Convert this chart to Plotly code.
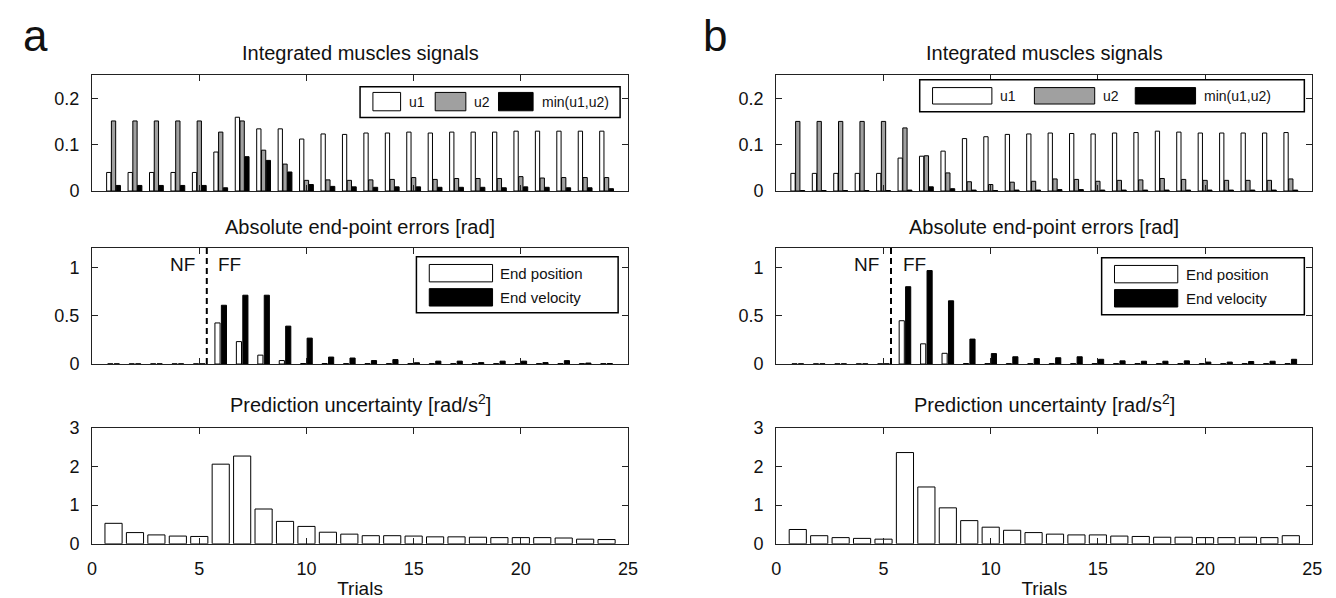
import plotly.graph_objects as go

W, H = 1336, 598

trials = list(range(1, 25))

# Panel a
a_u1 = [0.040, 0.040, 0.040, 0.040, 0.040, 0.084, 0.159, 0.134, 0.134, 0.112, 0.123, 0.122,
        0.125, 0.125, 0.127, 0.125, 0.127, 0.127, 0.127, 0.129, 0.129, 0.129, 0.129, 0.129]
a_u2 = [0.151, 0.151, 0.151, 0.151, 0.151, 0.127, 0.151, 0.088, 0.058, 0.023, 0.024, 0.023,
        0.024, 0.025, 0.029, 0.025, 0.027, 0.027, 0.027, 0.031, 0.028, 0.029, 0.029, 0.029]
a_min = [0.012, 0.012, 0.012, 0.012, 0.012, 0.007, 0.074, 0.066, 0.041, 0.014, 0.010, 0.009,
         0.008, 0.009, 0.009, 0.008, 0.008, 0.008, 0.007, 0.009, 0.008, 0.007, 0.007, 0.005]
a_pos = [0.002, 0.002, 0.002, 0.002, 0.002, 0.425, 0.232, 0.092, 0.036, 0.005, 0.005, 0.004,
         0.004, 0.004, 0.004, 0.004, 0.004, 0.004, 0.004, 0.004, 0.004, 0.004, 0.004, 0.004]
a_vel = [0.002, 0.002, 0.002, 0.002, 0.002, 0.608, 0.712, 0.712, 0.392, 0.268, 0.072, 0.062,
         0.036, 0.046, 0.013, 0.030, 0.030, 0.015, 0.030, 0.030, 0.015, 0.035, 0.010, 0.005]
a_unc = [0.53, 0.29, 0.23, 0.20, 0.19, 2.06, 2.27, 0.90, 0.58, 0.45, 0.30, 0.25,
         0.21, 0.21, 0.20, 0.18, 0.18, 0.17, 0.16, 0.16, 0.16, 0.15, 0.12, 0.11]

# Panel b
b_u1 = [0.038, 0.038, 0.038, 0.038, 0.038, 0.071, 0.075, 0.086, 0.113, 0.117, 0.122, 0.123,
        0.125, 0.124, 0.123, 0.125, 0.126, 0.129, 0.127, 0.125, 0.125, 0.125, 0.125, 0.126]
b_u2 = [0.150, 0.150, 0.150, 0.150, 0.150, 0.136, 0.076, 0.039, 0.020, 0.014, 0.019, 0.021,
        0.026, 0.025, 0.021, 0.023, 0.024, 0.027, 0.025, 0.023, 0.023, 0.023, 0.023, 0.026]
b_min = [0.001, 0.001, 0.001, 0.001, 0.001, 0.002, 0.009, 0.005, 0.002, 0.001, 0.002, 0.002,
         0.003, 0.003, 0.002, 0.002, 0.002, 0.002, 0.002, 0.002, 0.002, 0.002, 0.002, 0.002]
b_pos = [0.002, 0.002, 0.002, 0.002, 0.002, 0.448, 0.209, 0.111, 0.005, 0.004, 0.004, 0.004,
         0.004, 0.004, 0.004, 0.004, 0.004, 0.004, 0.004, 0.004, 0.004, 0.004, 0.004, 0.004]
b_vel = [0.002, 0.002, 0.002, 0.002, 0.002, 0.800, 0.967, 0.654, 0.258, 0.108, 0.075, 0.056,
         0.065, 0.075, 0.049, 0.033, 0.029, 0.029, 0.033, 0.020, 0.020, 0.026, 0.029, 0.049]
b_unc = [0.37, 0.21, 0.16, 0.14, 0.12, 2.36, 1.47, 0.93, 0.60, 0.43, 0.35, 0.29,
         0.25, 0.23, 0.23, 0.20, 0.19, 0.17, 0.17, 0.16, 0.16, 0.17, 0.16, 0.21]

nf_ff_boundary = [5.35, 5.35]
x_ticks = [0, 5, 10, 15, 20, 25]
top_ticks = [0, 0.1, 0.2]
top_tick_text = ["0", "0.1", "0.2"]
mid_ticks = [0, 0.5, 1]
mid_tick_text = ["0", "0.5", "1"]
bot_ticks = [0, 1, 2, 3]

muscle_labels = ["u1", "u2", "min(u1,u2)"]
error_labels = ["End position", "End velocity"]
titles = ["Integrated muscles signals", "Absolute end-point errors [rad]",
          "Prediction uncertainty [rad/s<sup>2</sup>]"]
panel_letters = ["a", "b"]

FONT = "Liberation Sans"
GRAY = "#a0a0a0"
LINE = "#222222"
TXT = "#111111"
muscle_colors = ["white", GRAY, "black"]
error_colors = ["white", "black"]


def px_x(a, b):
    return [a / W, b / W]


def px_y(top, bottom):
    return [1 - bottom / H, 1 - top / H]


col_px = [(80, 622), (772, 1314)]
row_px = [(59, 179), (238, 358), (424, 544)]
col_x = [px_x(*c) for c in col_px]
row_y = [px_y(*r) for r in row_px]

fig = go.Figure()

# top panels: grouped bars
for c, series in enumerate([(a_u1, a_u2, a_min), (b_u1, b_u2, b_min)]):
    key = "" if c == 0 else "2"
    for vals, col, name, off in zip(series, muscle_colors, muscle_labels, [-0.322, -0.100, 0.122]):
        fig.add_trace(go.Bar(x=trials, y=vals, name=name, width=0.2, offset=off, showlegend=False,
                             marker=dict(color=col, line=dict(color="black", width=1)),
                             xaxis="x" + key, yaxis="y" + key))

# middle panels
for c, (pos, vel, ytop) in enumerate([(a_pos, a_vel, 1.2), (b_pos, b_vel, 1.23)]):
    key = str(3 + c)
    for vals, col, name, off in zip([pos, vel], error_colors, error_labels, [-0.27, 0.03]):
        fig.add_trace(go.Bar(x=trials, y=vals, name=name, width=0.24, offset=off, showlegend=False,
                             marker=dict(color=col, line=dict(color="black", width=1)),
                             xaxis="x" + key, yaxis="y" + key))
    fig.add_trace(go.Scatter(x=nf_ff_boundary, y=[0, ytop], mode="lines", showlegend=False,
                             line=dict(color="black", width=2, dash="6px,4px"), cliponaxis=False,
                             xaxis="x" + key, yaxis="y" + key))
    fig.add_annotation(x=nf_ff_boundary[0] - 0.45, y=1.03, xref="x" + key, yref="y" + key, text="NF",
                       showarrow=False, xanchor="right", yanchor="middle",
                       font=dict(family=FONT, size=19, color=TXT))
    fig.add_annotation(x=nf_ff_boundary[0] + 0.45, y=1.03, xref="x" + key, yref="y" + key, text="FF",
                       showarrow=False, xanchor="left", yanchor="middle",
                       font=dict(family=FONT, size=19, color=TXT))

# bottom panels
for c, unc in enumerate([a_unc, b_unc]):
    key = str(5 + c)
    fig.add_trace(go.Bar(x=trials, y=unc, name="Prediction uncertainty", width=0.8, showlegend=False,
                         marker=dict(color="white", line=dict(color="black", width=1)),
                         xaxis="x" + key, yaxis="y" + key))

axis_common = dict(showgrid=False, zeroline=False, showline=True, linecolor=LINE, linewidth=1.2,
                   mirror="ticks", ticks="inside", ticklen=6, tickcolor=LINE, tickwidth=1,
                   ticklabelstandoff=8, tickfont=dict(family=FONT, size=18, color=TXT))

layout = dict(width=W, height=H, paper_bgcolor="white", plot_bgcolor="white",
              margin=dict(l=0, r=0, t=0, b=0), barmode="overlay", showlegend=False,
              font=dict(family=FONT, size=14, color=TXT))

for n in range(1, 7):
    row = (n - 1) // 2
    col = (n - 1) % 2
    key = "" if n == 1 else str(n)
    xa = dict(axis_common, domain=col_x[col], range=[0, 25], tickvals=x_ticks,
              anchor="y" + key, showticklabels=(row == 2))
    if row == 2:
        xa["title"] = dict(text="Trials", font=dict(family=FONT, size=19, color=TXT), standoff=4)
    if row == 0:
        ya = dict(axis_common, domain=row_y[row], range=[0, 0.25], tickvals=top_ticks, ticktext=top_tick_text)
    elif row == 1:
        ya = dict(axis_common, domain=row_y[row], range=[0, 1.2], tickvals=mid_ticks, ticktext=mid_tick_text)
    else:
        ya = dict(axis_common, domain=row_y[row], range=[0, 3], tickvals=bot_ticks)
    ya["anchor"] = "x" + key
    layout["xaxis" + key] = xa
    layout["yaxis" + key] = ya

fig.update_layout(**layout)


def rect(x0, y0, x1, y1, fill, lw=1):
    fig.add_shape(type="rect", xref="paper", yref="paper", x0=x0 / W, x1=x1 / W,
                  y0=1 - y1 / H, y1=1 - y0 / H, fillcolor=fill,
                  line=dict(color="black", width=lw), layer="above")


def label(x, y, text, size=14, anchor="left"):
    fig.add_annotation(x=x / W, y=1 - y / H, xref="paper", yref="paper", text=text, showarrow=False,
                       xanchor=anchor, yanchor="middle", font=dict(family=FONT, size=size, color=TXT))


# horizontal legends of the top panels
for box, sw_y, items in [
    ((351, 71, 614, 103), (77, 96), [(364, 392, 398), (427, 458, 464), (491, 526, 533)]),
    ((917, 64, 1306, 97), (72, 89), [(930, 990, 996), (1033, 1094, 1100), (1135, 1196, 1203)]),
]:
    rect(*box, "white", 1.5)
    for (sx0, sx1, tx), col, lab in zip(items, muscle_colors, muscle_labels):
        rect(sx0, sw_y[0], sx1, sw_y[1], col)
        label(tx, (sw_y[0] + sw_y[1]) / 2, lab)

# vertical legends of the middle panels
for box, sx, tx, rows in [
    ((408, 247, 612, 305), (421, 485), 491, [(255, 273), (280, 298)]),
    ((1101, 248, 1306, 307), (1114, 1178), 1184, [(256, 274), (281, 299)]),
]:
    rect(*box, "white", 1.5)
    for (y0, y1), col, lab in zip(rows, error_colors, error_labels):
        rect(sx[0], y0, sx[1], y1, col)
        label(tx, (y0 + y1) / 2, lab, size=15)

# panel titles
title_y = [36, 216, 399]
for r, t in enumerate(titles):
    for c in range(2):
        cx = (col_px[c][0] + col_px[c][1]) / 2
        label(cx, title_y[r], t, size=20, anchor="center")

# panel letters
for lbl, xp in zip(panel_letters, [8, 696]):
    fig.add_annotation(x=xp / W, y=1 + 9 / H, xref="paper", yref="paper", text=lbl, showarrow=False,
                       xanchor="left", yanchor="top", font=dict(family=FONT, size=44, color=TXT))

fig.write_html("out.html")
